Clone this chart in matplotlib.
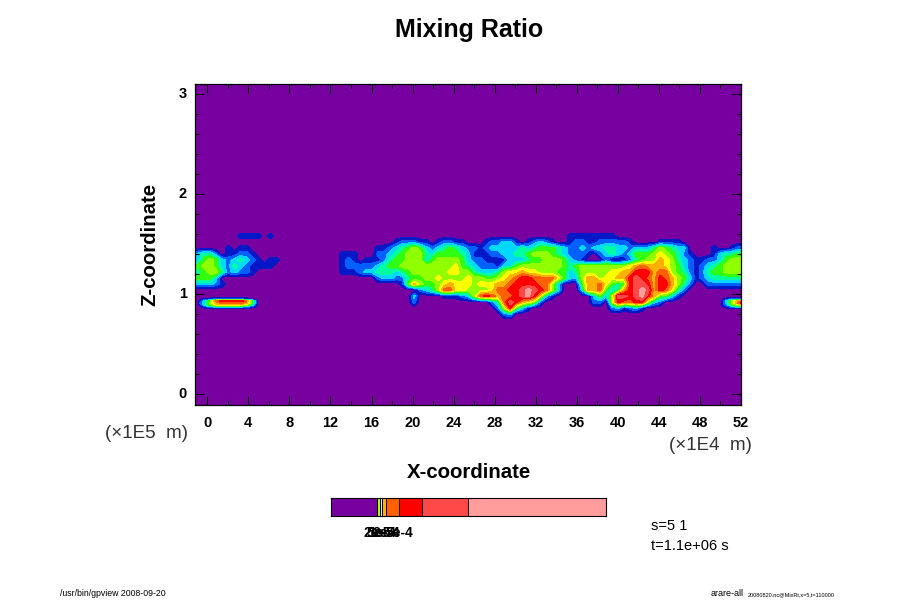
import numpy as np
import matplotlib
matplotlib.use("Agg")
import matplotlib.pyplot as plt
from matplotlib.ticker import MultipleLocator
from matplotlib.transforms import ScaledTranslation

plt.rcParams['font.family'] = ['Liberation Sans', 'DejaVu Sans']

# Field classes, one string per row (top to bottom); a=10, b=11, c=12
field_rows = [
 "0000000000 0000000000 0000000000 0000000000 0000000000 0000000000 0000000000 0000000000 00000000000",
 "0000000111 1010000000 0000000000 0000000000 0000000000 0000000000 0011111111 0000000000 00000000000",
 "0000000000 0000000000 0000000000 0001222110 1221100012 2331012321 0012211222 2210000111 10000000000",
 "0000010110 0000000000 0000000000 1123456532 3454322123 3333434555 4322323344 3323334654 33000010012",
 "3442011221 0000000000 0000111000 2234566643 5555431112 2334456665 4322210234 3235556765 42100013445",
 "3565323432 1011000000 0000121011 1245566635 6666532211 1133345566 6532100020 0124566876 43211223566",
 "5665324321 1110000000 0000122222 3455666666 6667543222 1335666666 6545666666 6678988876 53212345666",
 "4566423221 0000000000 0000111233 4443456666 6677664333 4677877666 5534666667 788aaa8996 54212455666",
 "5553000000 0000000000 0000000000 2332245566 7666676655 6789aa9999 7533688677 88aba98a98 65312344444",
 "3332100000 0000000000 0000000000 0000158655 6787776777 889aaaa996 3000588975 45abba8aa8 64200222222",
 "0000000000 0000000000 0000000000 0000000234 6997766667 99aabcba96 3000388953 48abcb8a97 42000000000",
 "0000000000 0000000000 0000000000 0000003000 01112369a9 899abca731 0000003536 bbabca8553 10000000000",
 "0000000000 0000000000 0000000000 0000002000 0000000002 49ba876200 0000002206 a99aa63200 00000000000",
 "0000000000 0000000000 0000000000 0000000000 0000000000 26a5310000 0000000002 3123100000 00000000000",
 "0000000000 0000000000 0000000000 0000000000 0000000000 0230000000 0000000000 0000000000 00000000000",
 "0000000000 0000000000 0000000000 0000000000 0000000000 0000000000 0000000000 0000000000 00000000000",
]
# grid positions of the table above, in data units
x_first, x_step = -0.906, 0.5848
z_first, z_step = 1.643, -0.06

# The two thin bands near z=0.9 on a finer grid
band_z = [0.973, 0.953, 0.933, 0.913, 0.893, 0.873, 0.853]
left_band_x = [-0.906, -0.321, 0.263, 0.848, 1.433, 2.018, 2.603, 3.187, 3.772, 4.357, 4.942]
left_band_rows = [
 "00000000000",
 "01122222100",
 "0359aaaa950",
 "13689999850",
 "03577777630",
 "01233333210",
 "00000000000",
]
right_band_x = [49.97, 50.55, 51.14, 51.72, 52.1]
right_band_rows = [
 "00000",
 "01222",
 "03689",
 "0369a",
 "02567",
 "01233",
 "00000",
]

class_colors = ["#7800a0", "#0018c8", "#0060ff", "#00d8ff", "#00ffa0", "#30ff10", "#90ff00",
                "#ffff00", "#ffb000", "#ff6000", "#ff0000", "#ff4848", "#ff9c9c"]

x_ticks = [0, 4, 8, 12, 16, 20, 24, 28, 32, 36, 40, 44, 48, 52]
z_ticks = [0, 1, 2, 3]

bar_edges = [0, 46.3, 49, 50.7, 55, 68.3, 91.3, 137.3, 275]
bar_colors = ["#7800a0", "#a8ff00", "#ffff00", "#ffb000", "#ff6000", "#ff0000", "#ff4848", "#ff9c9c"]
bar_tick_edges = [46.3, 49, 50.7, 55, 68.3]
bar_labels = ["2e-5", "5e-5", "1e-4", "2e-4", "5e-4"]

W, H = 900, 600
fig = plt.figure(figsize=(W / 100, H / 100), dpi=100, facecolor="white")


def px_axes(l, t, r, b):
    return fig.add_axes([l / W, 1 - b / H, (r - l) / W, (b - t) / H])


def ftext(x, y, s, **kw):
    kw.setdefault("ha", "left")
    kw.setdefault("va", "center")
    fig.text(x / W, 1 - y / H, s, **kw)


def parse(rows):
    return np.array([[int(c, 16) for c in r.replace(" ", "")] for r in rows], dtype=float)


ax = px_axes(195, 84, 741, 405)
ax.set_facecolor(class_colors[0])

F = parse(field_rows)
x = x_first + x_step * np.arange(F.shape[1])
z = z_first + z_step * np.arange(F.shape[0])
# carry the edge columns out to the frame
F = np.pad(F, ((0, 0), (1, 1)), mode="edge")
x = np.r_[-1.3, x, 52.1]
levels = np.arange(-0.5, 13.0, 1.0)
ax.contourf(x, z, F, levels=levels, colors=class_colors, antialiased=False)
ax.contourf(left_band_x, band_z, parse(left_band_rows), levels=levels, colors=class_colors, antialiased=False)
ax.contourf(right_band_x, band_z, parse(right_band_rows), levels=levels, colors=class_colors, antialiased=False)

ax.set_xlim(-1.2, 52)
ax.set_ylim(-0.107, 3.103)
ax.set_xticks(x_ticks)
ax.set_yticks(z_ticks)
ax.xaxis.set_minor_locator(MultipleLocator(2))
ax.yaxis.set_minor_locator(MultipleLocator(0.2))
ax.tick_params(which="major", direction="in", length=6.5, width=0.8, top=True, right=True)
ax.tick_params(which="minor", direction="in", length=3, width=0.8, top=True, right=True)
ax.tick_params(axis="x", which="major", pad=8, labelsize=10.5)
ax.tick_params(axis="y", which="major", pad=6, labelsize=10.5)
for lab in ax.get_xticklabels() + ax.get_yticklabels():
    lab.set_fontweight("bold")
up = ScaledTranslation(0, 2 / 72 * 0.72, fig.dpi_scale_trans)
for lab in ax.get_yticklabels():
    lab.set_transform(lab.get_transform() + up)
for s in ax.spines.values():
    s.set_linewidth(0.9)

ftext(469, 30, "Mixing Ratio", ha="center", fontsize=18, fontweight="bold")
ftext(469, 472, "X-coordinate", ha="center", fontsize=14.7, fontweight="bold")
ftext(150, 244, "Z-coordinate", ha="center", rotation=90, fontsize=14.7, fontweight="bold")
ftext(105, 433, "(\u00d71E5  m)", fontsize=13.5, color="#333333")
ftext(669, 445, "(\u00d71E4  m)", fontsize=13.5, color="#333333")

cax = px_axes(331, 498, 606, 516)
cax.pcolormesh(bar_edges, [0, 1], np.arange(len(bar_colors))[None, :],
               cmap=matplotlib.colors.ListedColormap(bar_colors),
               edgecolors="black", linewidth=0.7)
cax.set_xlim(bar_edges[0], bar_edges[-1])
cax.set_ylim(0, 1)
cax.set_yticks([])
cax.set_xticks(bar_tick_edges)
cax.set_xticklabels(bar_labels, fontsize=10, fontweight="bold")
cax.tick_params(axis="x", length=0, pad=7)

ftext(651, 526, "s=5 1", fontsize=10.5)
ftext(651, 546, "t=1.1e+06 s", fontsize=10.5)
ftext(60, 593, "/usr/bin/gpview 2008-09-20", fontsize=6.3)
ftext(711, 593, "arare-all", fontsize=6.5)
ftext(748, 595, "20080820.nc@MixRt,x=5,t=110000", fontsize=4)

fig.savefig("out.png", dpi=100)
